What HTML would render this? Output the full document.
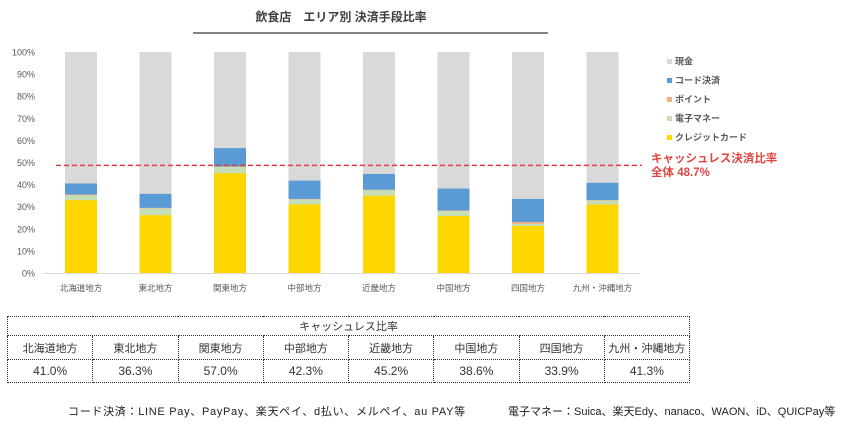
<!DOCTYPE html>
<html><head><meta charset="utf-8">
<style>
body{margin:0;background:#fff;width:841px;height:423px;overflow:hidden;font-family:"Liberation Sans","Noto Sans CJK JP",sans-serif;}
table{position:absolute;left:7px;top:316px;border-collapse:collapse;font-size:11px;color:#333;table-layout:fixed;width:683px;}
td{border:1px dotted #333;text-align:center;padding:0;white-space:nowrap;overflow:hidden;}
.note{position:absolute;top:403px;font-size:11px;color:#222;white-space:nowrap;}
</style></head><body>
<svg width="841" height="423" style="position:absolute;left:0;top:0">
<text x="341" y="21" text-anchor="middle" font-size="12" font-weight="bold" fill="#404040">飲食店　エリア別 決済手段比率</text>
<line x1="193" y1="33" x2="548" y2="33" stroke="#595959" stroke-width="1.5"/>
<g id="yaxis"></g>
<g id="bars"></g>
<g id="xlabels"></g>
<line x1="43" y1="273.5" x2="640" y2="273.5" stroke="#d9d9d9"/>
<line id="avgline" x1="56" x2="642" stroke="#d9413a" stroke-width="1.6" stroke-dasharray="5,3"/>
<text x="651" y="162" font-size="11.5" font-weight="bold" fill="#e0463f">キャッシュレス決済比率</text>
<text x="651" y="176" font-size="11.5" font-weight="bold" fill="#e0463f">全体 48.7%</text>
<g id="legend"></g>
</svg>
<table>
<tr style="height:19px"><td colspan="8">キャッシュレス比率</td></tr>
<tr style="height:24px" id="trow1"></tr>
<tr style="height:23px;font-size:12px" id="trow2"></tr>
</table>
<div class="note" style="left:68px;letter-spacing:0.7px;">コード決済：LINE Pay、PayPay、楽天ペイ、d払い、メルペイ、au PAY等</div>
<div class="note" style="left:508px;">電子マネー：Suica、楽天Edy、nanaco、WAON、iD、QUICPay等</div>
<script>
const categories=["北海道地方","東北地方","関東地方","中部地方","近畿地方","中国地方","四国地方","九州・沖縄地方"];
const credit=[33.0,26.2,45.2,31.0,35.0,25.8,21.3,31.0];
const emoney=[2.2,3.1,2.8,2.3,2.5,2.3,0.9,1.8];
const point=[0.3,0.2,0.2,0.2,0.2,0.2,0.9,0.2];
const code=[5.0,6.3,8.3,8.3,7.1,9.9,10.4,7.8];
const cashlessRate=["41.0%","36.3%","57.0%","42.3%","45.2%","38.6%","33.9%","41.3%"];
const yTicks=[0,10,20,30,40,50,60,70,80,90,100];
const average=48.7;
const NS="http://www.w3.org/2000/svg";
const y0=273,yTop=52;
const y=v=>y0-(v/100)*(y0-yTop);
const x=i=>81+i*74.5;
function mk(tag,attrs,parent){const e=document.createElementNS(NS,tag);for(const k in attrs)e.setAttribute(k,attrs[k]);parent.appendChild(e);return e;}
const ya=document.getElementById('yaxis');
yTicks.forEach(t=>{const e=mk('text',{x:35,y:y(t)+3.5,'text-anchor':'end','font-size':9,fill:'#595959'},ya);e.textContent=t+'%';

});
const colors={credit:'#ffd700',emoney:'#c5deb5',point:'#f4b183',code:'#5b9bd5',cash:'#d9d9d9'};
const bg=document.getElementById('bars'),xl=document.getElementById('xlabels');
categories.forEach((c,i)=>{
 const cx=x(i),w=32;
 const r=mk('rect',{x:cx-w/2,y:y(100),width:w,height:y(0)-y(100),fill:colors.cash},bg);
 
 
 let acc=0;
 [['credit',credit],['emoney',emoney],['point',point],['code',code]].forEach(([k,arr])=>{
  const v=arr[i];const s=mk('rect',{x:cx-w/2,y:y(acc+v),width:w,height:y(acc)-y(acc+v),fill:colors[k]},bg);
  
  
  acc+=v;});
 const t=mk('text',{x:cx,y:291,'text-anchor':'middle','font-size':8.5,fill:'#595959'},xl);t.textContent=c;
 
 
});
const al=document.getElementById('avgline');al.setAttribute('y1',y(average));al.setAttribute('y2',y(average));
const lg=document.getElementById('legend');
[['現金','cash'],['コード決済','code'],['ポイント','point'],['電子マネー','emoney'],['クレジットカード','credit']].forEach(([n,k],j)=>{
 const yy=61+j*19;
 const s=mk('rect',{x:667,y:yy-2,width:5,height:5,fill:colors[k]},lg);
 
 
 const t=mk('text',{x:675,y:yy+3.5,'font-size':9,'font-weight':'bold',fill:'#595959'},lg);t.textContent=n;
 
 
});
const widths=[88,85,85,85,85,85,83,87];
const r1=document.getElementById('trow1'),r2=document.getElementById('trow2');
categories.forEach((c,i)=>{
 const a=document.createElement('td');a.textContent=c;a.style.width=widths[i]+'px';
 
 
 r1.appendChild(a);
 const b=document.createElement('td');b.textContent=cashlessRate[i];
 
 
 r2.appendChild(b);
});
</script>
</body></html>
